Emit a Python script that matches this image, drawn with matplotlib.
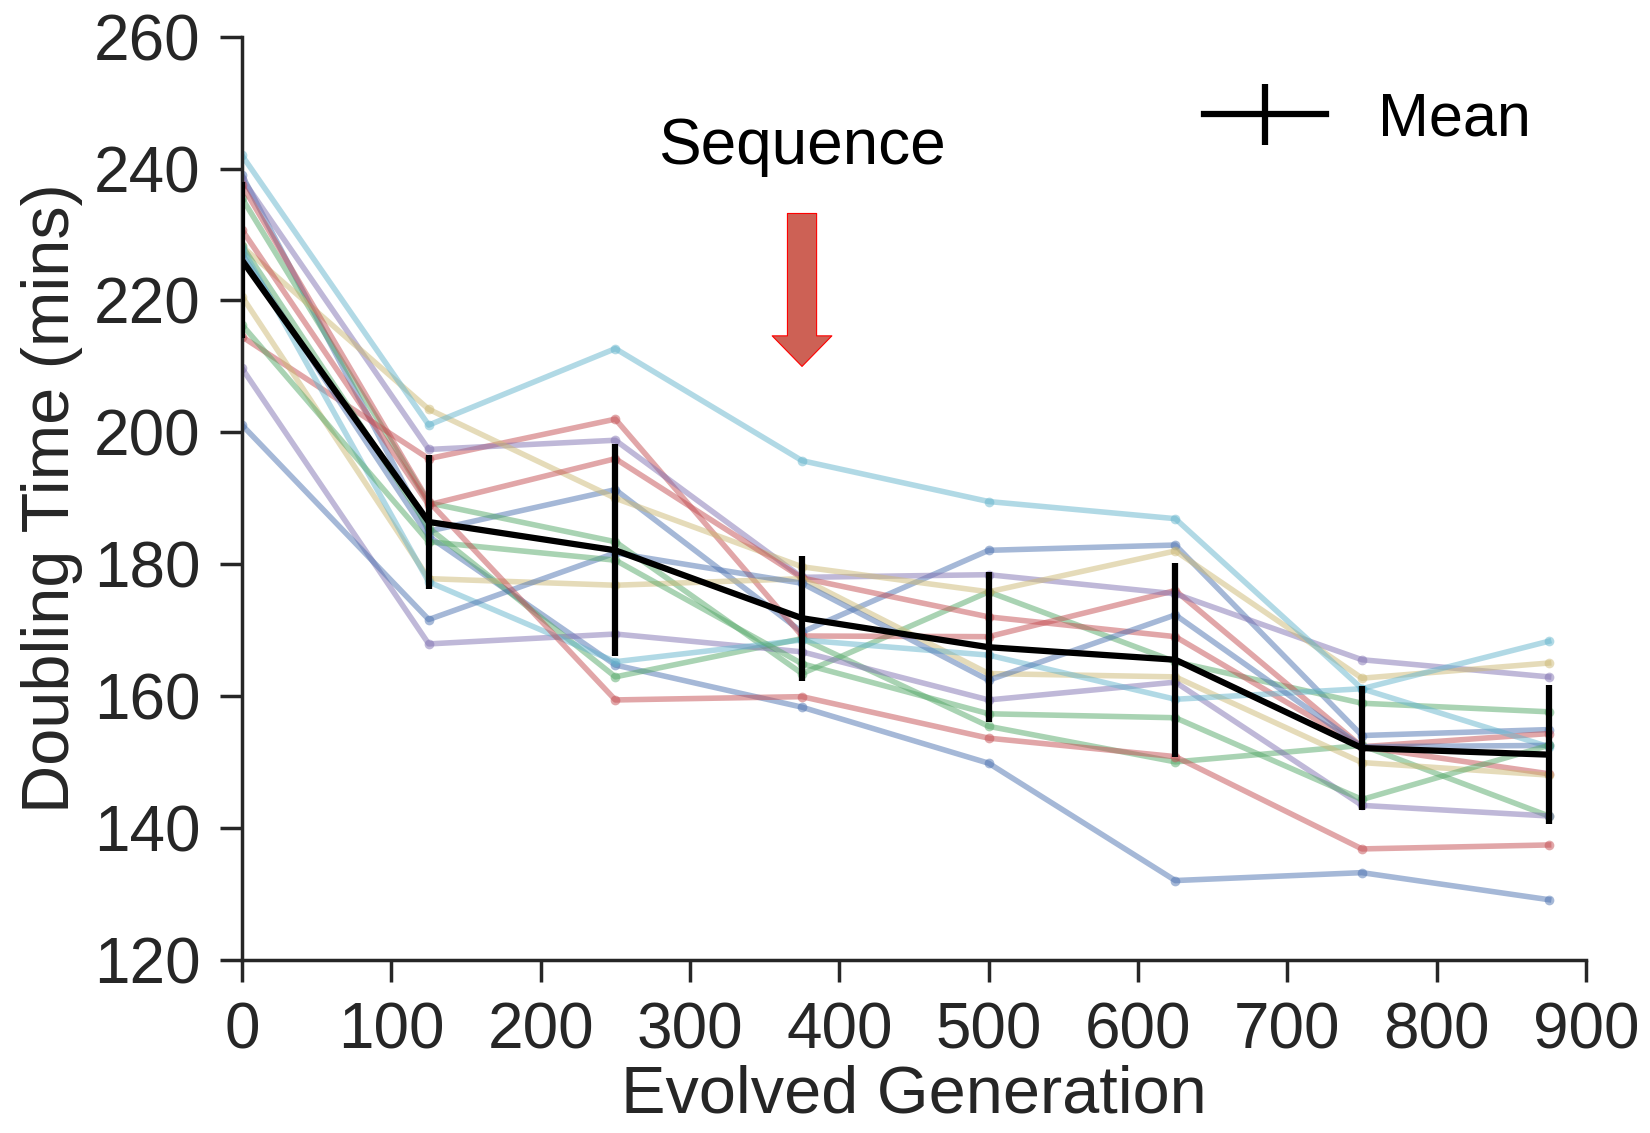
import numpy as np
import matplotlib.pyplot as plt

plt.rcParams['font.family'] = ['Liberation Sans', 'DejaVu Sans']

# generations sampled
generations = [0, 125, 250, 375, 500, 625, 750, 875]

# individual lineages, plotted in colour-cycle order
blue_1   = [239.0, 185.0, 191.3, 169.7, 182.1, 182.9, 154.0, 154.9]
green_1  = [235.5, 189.3, 183.4, 163.4, 175.8, 165.2, 158.9, 157.6]
red_1    = [214.5, 196.0, 202.0, 169.1, 169.0, 176.0, 152.3, 154.3]
purple_1 = [238.5, 197.4, 198.8, 178.0, 178.4, 175.5, 165.5, 162.9]
yellow_1 = [228.2, 203.5, 190.0, 179.6, 175.8, 182.0, 162.7, 165.0]
cyan_1   = [242.0, 201.1, 212.7, 195.7, 189.5, 186.9, 161.1, 152.3]
blue_2   = [227.0, 184.2, 164.7, 158.3, 149.8, 132.0, 133.2, 129.1]
green_2  = [228.3, 185.5, 162.9, 168.7, 155.4, 150.0, 152.5, 141.8]
red_2    = [230.7, 189.0, 196.0, 177.9, 172.0, 169.0, 152.3, 148.2]
purple_2 = [209.7, 167.9, 169.4, 166.7, 159.4, 162.1, 143.4, 141.8]
yellow_2 = [220.6, 177.8, 176.8, 177.8, 163.4, 162.9, 149.9, 148.0]
cyan_2   = [228.0, 177.3, 165.2, 168.5, 166.2, 159.5, 161.1, 168.3]
blue_3   = [201.1, 171.6, 181.7, 177.1, 162.4, 172.3, 152.3, 152.5]
green_3  = [216.3, 183.4, 180.6, 164.9, 157.3, 156.7, 144.3, 152.5]
red_3    = [237.5, 189.5, 159.4, 159.9, 153.6, 150.8, 136.8, 137.4]

lineages = [blue_1, green_1, red_1, purple_1, yellow_1, cyan_1,
            blue_2, green_2, red_2, purple_2, yellow_2, cyan_2,
            blue_3, green_3, red_3]

mean_time = [226.1, 186.4, 182.1, 171.8, 167.4, 165.5, 152.1, 151.1]
mean_err  = [11.8, 10.2, 16.1, 9.5, 11.4, 14.7, 9.4, 10.5]

deep = ['#4C72B0', '#55A868', '#C44E52', '#8172B2', '#CCB974', '#64B5CD']

fig = plt.figure(figsize=(16.5, 11.33), dpi=100)
ax = fig.add_axes([0.1467, 0.153, 0.8145, 0.8145])

for i, vals in enumerate(lineages):
    ax.plot(generations, vals, '-o', color=deep[i % 6], alpha=0.5,
            lw=4, ms=7, mew=0)

ax.errorbar(generations, mean_time, yerr=mean_err, color='black',
            lw=4.5, elinewidth=4.5, capsize=0, label='Mean', zorder=10)

# sequencing point
ax.annotate('', xy=(375, 210), xytext=(375, 233.2),
            arrowprops=dict(arrowstyle='simple,head_width=4.3,head_length=2.2,tail_width=2.1',
                            fc='#cd6155', ec='red', lw=0.8,
                            mutation_scale=10, shrinkA=0, shrinkB=0))
ax.text(375, 243.3, 'Sequence', fontsize=46, ha='center', va='center',
        color='black')

ax.set_xlim(0, 900)
ax.set_ylim(120, 260)
ax.set_xticks(np.arange(0, 901, 100))
ax.set_yticks(np.arange(120, 261, 20))

for s in ['top', 'right']:
    ax.spines[s].set_visible(False)
for s in ['left', 'bottom']:
    ax.spines[s].set_linewidth(2.5)
    ax.spines[s].set_color('#262626')

ax.tick_params(axis='both', which='major', labelsize=46, length=16, width=2.5,
               pad=14, colors='#262626', labelcolor='#262626')

ax.set_xlabel('Evolved Generation', fontsize=48, color='#262626', labelpad=2)
ax.set_ylabel('Doubling Time (mins)', fontsize=48, color='#262626', labelpad=8)

ax.legend(loc='upper right', frameon=False, fontsize=44, handlelength=2.0,
          handletextpad=0.85, bbox_to_anchor=(1.0, 1.0))

fig.savefig('out.png', dpi=100)
